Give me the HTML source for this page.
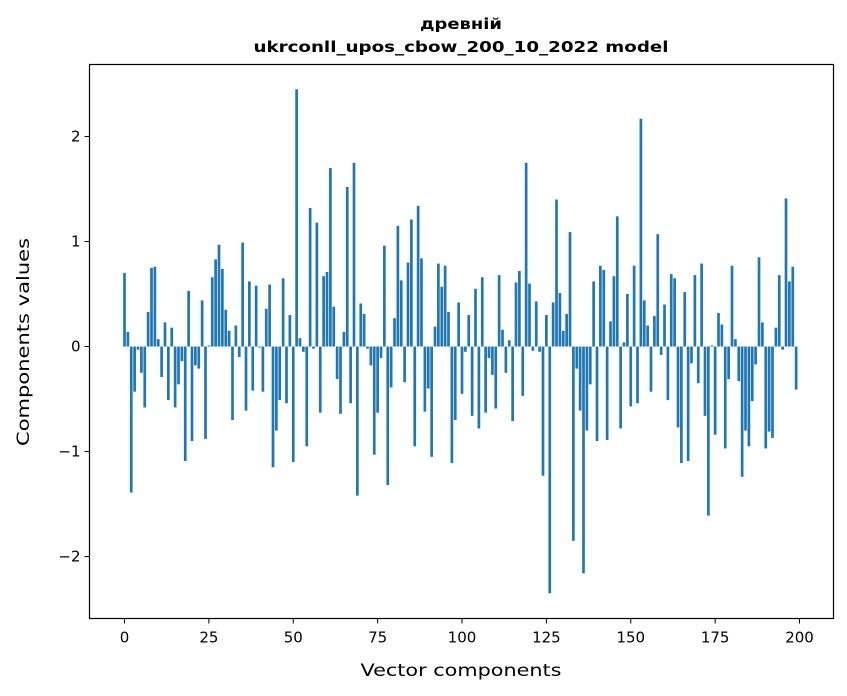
<!DOCTYPE html>
<html><head><meta charset="utf-8"><style>
html,body{margin:0;padding:0;background:#fff;}
svg{display:block;font-family:"DejaVu Sans","Liberation Sans",sans-serif;}
</style></head><body>
<svg id="chart" width="847" height="696" viewBox="0 0 847 696" xmlns="http://www.w3.org/2000/svg">
<rect x="0" y="0" width="847" height="696" fill="#fff"/>
<text x="461" y="29" text-anchor="middle" font-size="15" font-weight="bold" textLength="82" lengthAdjust="spacingAndGlyphs">древній</text>
<text x="461" y="52" text-anchor="middle" font-size="15" font-weight="bold" textLength="415" lengthAdjust="spacingAndGlyphs">ukrconll_upos_cbow_200_10_2022 model</text>
<g id="bars"></g>
<g id="xticks"></g>
<g id="yticks"></g>
<rect x="89.5" y="64.5" width="744" height="554" fill="none" stroke="#000" stroke-width="1.2"/>
<text x="461" y="676" text-anchor="middle" font-size="17" textLength="201" lengthAdjust="spacingAndGlyphs">Vector components</text>
<text transform="translate(29,342) rotate(-90)" text-anchor="middle" font-size="17" textLength="208" lengthAdjust="spacingAndGlyphs">Components values</text>
</svg>
<script>
const components = Array.from({length:200},(_, i)=>i);
const values = [
0.70,0.14,-1.39,-0.43,-0.03,-0.25,-0.58,0.33,0.75,0.76,
0.07,-0.29,0.23,-0.51,0.18,-0.58,-0.36,-0.14,-1.09,0.53,
-0.90,-0.18,-0.21,0.44,-0.88,0.01,0.66,0.83,0.97,0.74,
0.35,0.15,-0.70,0.20,-0.10,0.99,-0.61,0.62,-0.42,0.58,
-0.01,-0.43,0.36,0.59,-1.15,-0.80,-0.51,0.65,-0.54,0.30,
-1.10,2.45,0.08,-0.05,-0.95,1.32,-0.02,1.18,-0.63,0.67,
0.71,1.70,0.38,-0.31,-0.64,0.14,1.52,-0.54,1.75,-1.42,
0.41,0.31,-0.02,-0.18,-1.03,-0.63,-0.11,0.96,-1.32,-0.39,
0.27,1.15,0.63,-0.34,0.80,1.21,-0.95,1.34,0.84,-0.62,
-0.40,-1.05,0.19,0.79,0.57,0.77,0.33,-1.11,-0.70,0.42,
-0.45,-0.05,0.30,-0.66,0.55,-0.78,0.66,-0.63,-0.11,-0.27,
-0.59,0.68,0.16,-0.25,0.06,-0.71,0.61,0.72,-0.47,1.75,
0.60,-0.04,0.43,-0.05,-1.23,0.30,-2.35,0.42,1.40,0.51,
0.15,0.31,1.09,-1.85,-0.21,-0.61,-2.16,-0.80,-0.36,0.62,
-0.90,0.77,0.73,-0.89,0.24,0.67,1.24,-0.78,0.04,0.50,
-0.57,0.77,-0.54,2.17,0.44,0.20,-0.43,0.29,1.07,-0.08,
0.40,-0.51,0.69,0.65,-0.77,-1.11,0.52,-1.09,-0.16,0.68,
-0.35,0.79,-0.66,-1.61,0.01,-0.84,0.32,0.21,-0.97,-0.31,
0.77,0.07,-0.33,-1.24,-0.80,-0.95,-0.52,-0.17,0.85,0.23,
-0.97,-0.81,-0.87,0.18,0.68,-0.03,1.41,0.62,0.76,-0.41
];
const xTicks = [0,25,50,75,100,125,150,175,200];
const yTicks = [-2,-1,0,1,2];
const yTickLabels = ["\u22122","\u22121","0","1","2"];

const X0=89.5, X1=833.5, Y0=64.5, Y1=618.5;
const xMin=-10.37, xMax=210.07, yMin=-2.59, yMax=2.686;
function xs(v){return X0+(v-xMin)/(xMax-xMin)*(X1-X0);}
function ys(v){return Y1-(v-yMin)/(yMax-yMin)*(Y1-Y0);}
const NS="http://www.w3.org/2000/svg";
const bars=document.getElementById('bars');
components.forEach((c,i)=>{
  const v=values[i];
  const r=document.createElementNS(NS,'rect');
  const xl=xs(c-0.4), xr=xs(c+0.4);
  const y0=ys(0), yv=ys(v);
  r.setAttribute('x',xl);
  r.setAttribute('width',xr-xl);
  r.setAttribute('y',Math.min(y0,yv));
  r.setAttribute('height',Math.abs(yv-y0));
  r.setAttribute('fill','#1f77b4');
  
  
  bars.appendChild(r);
});
const xg=document.getElementById('xticks');
xTicks.forEach(t=>{
  const l=document.createElementNS(NS,'line');
  l.setAttribute('x1',xs(t));l.setAttribute('x2',xs(t));
  l.setAttribute('y1',Y1);l.setAttribute('y2',Y1+5);
  l.setAttribute('stroke','#000');
  
  
  xg.appendChild(l);
  const tx=document.createElementNS(NS,'text');
  tx.setAttribute('x',xs(t));tx.setAttribute('y',Y1+24);
  tx.setAttribute('text-anchor','middle');tx.setAttribute('font-size','15');
  tx.textContent=String(t);
  
  
  xg.appendChild(tx);
});
const yg=document.getElementById('yticks');
yTicks.forEach((t,i)=>{
  const l=document.createElementNS(NS,'line');
  l.setAttribute('x1',X0-5);l.setAttribute('x2',X0);
  l.setAttribute('y1',ys(t));l.setAttribute('y2',ys(t));
  l.setAttribute('stroke','#000');
  
  
  yg.appendChild(l);
  const tx=document.createElementNS(NS,'text');
  tx.setAttribute('x',X0-9);tx.setAttribute('y',ys(t)+5);
  tx.setAttribute('text-anchor','end');tx.setAttribute('font-size','15');
  tx.textContent=yTickLabels[i];
  
  
  yg.appendChild(tx);
});
</script>
</body></html>
